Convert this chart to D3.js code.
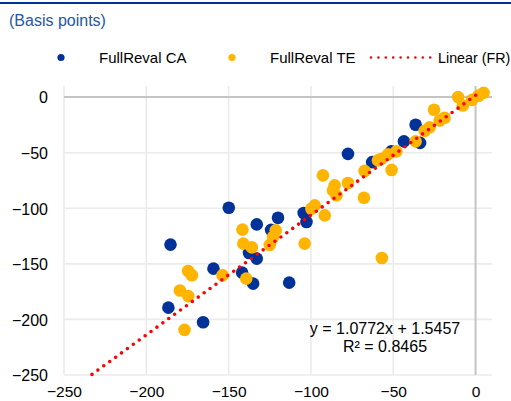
<!DOCTYPE html>
<html>
<head>
<meta charset="utf-8">
<script src="https://cdn.jsdelivr.net/npm/d3@7"></script>
<style>
  html, body { margin: 0; padding: 0; background: #fff; }
  svg { display: block; font-family: "Liberation Sans", Arial, sans-serif; }
</style>
</head>
<body>
<svg id="chart" width="511" height="401"></svg>
<script>
// ---- data ----
const caX = [-185.3, -186.6, -165.5, -149.9, -159.2, -141.8, -135.1, -137.6, -132.9, -132.9, -120.0, -124.2, -104.4, -102.7, -113.2, -77.5, -62.8, -51.2, -43.5, -36.4, -33.7];
const caY = [-132.7, -189.4, -202.6, -99.5, -154.3, -157.9, -167.8, -140.3, -145.3, -114.5, -108.6, -119.4, -104.3, -112.4, -166.9, -51.1, -58.5, -48.8, -39.8, -24.8, -41.2];
const teX = [-176.8, -179.6, -174.5, -174.6, -172.3, -153.7, -139.3, -141.6, -141.1, -135.9, -125.0, -121.4, -123.0, -103.8, -99.7, -97.7, -91.6, -92.7, -85.6, -86.6, -77.5, -84.5, -67.4, -67.8, -59.3, -57.2, -53.2, -48.1, -51.0, -36.4, -30.9, -27.9, -21.8, -18.8, -25.2, -10.6, -7.7, -2.1, 1.8, 4.9, -56.9];
const teY = [-209.4, -174.0, -179.0, -156.5, -160.3, -160.3, -163.3, -119.2, -131.8, -135.2, -132.9, -119.9, -125.9, -131.8, -100.4, -97.4, -106.4, -70.4, -79.4, -83.9, -77.2, -88.4, -66.4, -90.5, -56.9, -55.4, -51.5, -48.8, -65.5, -39.8, -30.4, -27.2, -21.0, -18.5, -11.3, 0.0, -7.5, -2.5, 1.3, 3.8, -144.8];
const trendSlope = 1.0772;
const trendIntercept = 1.5457;
const trendRange = [-233, 1];
const xTicks = [-250, -200, -150, -100, -50, 0];
const yTicks = [-250, -200, -150, -100, -50, 0];
const seriesNames = ["FullReval CA", "FullReval TE", "Linear (FR)"];
const titleText = "(Basis points)";
const eqLines = ["y = 1.0772x + 1.5457", "R\u00B2 = 0.8465"];

// ---- drawing ----
const BLUE = "#003299", ORANGE = "#ffb400", RED = "#ff0000";
const svg = d3.select("#chart");
const x = d3.scaleLinear().domain([-250, 10]).range([64, 492]);
const y = d3.scaleLinear().domain([-250, 10]).range([375, 86]);

// top rule
svg.append("rect").attr("x", 0).attr("y", 2).attr("width", 511).attr("height", 2).attr("fill", BLUE);

// title
svg.append("text").attr("x", 9).attr("y", 26).attr("fill", "#2457a5")
  .attr("font-size", 16).text(titleText);

// gridlines
const g = svg.append("g");
g.selectAll("line.vg").data(xTicks.filter(d => d !== 0)).join("line")
  .attr("x1", d => x(d)).attr("x2", d => x(d)).attr("y1", y(10)).attr("y2", y(-250))
  .attr("stroke", "#ebebeb").attr("stroke-width", 1.6);
g.selectAll("line.hg").data(yTicks.filter(d => d !== 0)).join("line")
  .attr("x1", x(-250)).attr("x2", x(10)).attr("y1", d => y(d)).attr("y2", d => y(d))
  .attr("stroke", "#ebebeb").attr("stroke-width", 1.6);
// zero axes
g.append("line").attr("x1", x(-250)).attr("x2", x(10)).attr("y1", y(0)).attr("y2", y(0))
  .attr("stroke", "#c4c4c4").attr("stroke-width", 2);
g.append("line").attr("x1", x(0)).attr("x2", x(0)).attr("y1", y(10)).attr("y2", y(-250))
  .attr("stroke", "#c4c4c4").attr("stroke-width", 2);

// axis tick labels via d3 axes (domain & ticks hidden)
const xAxis = d3.axisBottom(x).tickValues(xTicks).tickSize(0).tickPadding(0);
const xa = svg.append("g").attr("transform", `translate(0,${y(-250)})`).call(xAxis);
xa.select(".domain").remove();
xa.selectAll("text").attr("font-size", 15.5).attr("fill", "#000")
  .attr("font-family", '"Liberation Sans", Arial, sans-serif')
  .attr("dy", null).attr("y", 21.5);

const yAxis = d3.axisLeft(y).tickValues(yTicks).tickSize(0).tickPadding(0);
const ya = svg.append("g").attr("transform", `translate(48,0)`).call(yAxis);
ya.select(".domain").remove();
ya.selectAll("text").attr("font-size", 16).attr("fill", "#000")
  .attr("font-family", '"Liberation Sans", Arial, sans-serif')
  .attr("x", 0).attr("dy", "0.36em");

// points
const caData = caX.map((v, i) => [v, caY[i]]);
const teData = teX.map((v, i) => [v, teY[i]]);
svg.append("g").selectAll("circle").data(caData).join("circle")
  .attr("cx", d => x(d[0])).attr("cy", d => y(d[1])).attr("r", 6.3).attr("fill", BLUE);
svg.append("g").selectAll("circle").data(teData).join("circle")
  .attr("cx", d => x(d[0])).attr("cy", d => y(d[1])).attr("r", 6.3).attr("fill", ORANGE);

// trendline
const line = d3.line().x(d => x(d)).y(d => y(trendSlope * d + trendIntercept));
svg.append("path").datum(trendRange).attr("d", line)
  .attr("fill", "none").attr("stroke", RED).attr("stroke-width", 3.6)
  .attr("stroke-linecap", "round").attr("stroke-dasharray", "0 7.3");

// equation
const eq = svg.append("g").attr("font-size", 16).attr("fill", "#000").attr("text-anchor", "middle");
eq.append("text").attr("x", 385).attr("y", 334).text(eqLines[0]);
eq.append("text").attr("x", 385).attr("y", 352).text(eqLines[1]);

// legend
const lg = svg.append("g").attr("font-size", 15).attr("fill", "#000");
lg.append("circle").attr("cx", 61).attr("cy", 57.5).attr("r", 3.6).attr("fill", BLUE);
lg.append("text").attr("x", 99).attr("y", 62.5).text(seriesNames[0]);
lg.append("circle").attr("cx", 232).attr("cy", 57.5).attr("r", 3.6).attr("fill", ORANGE);
lg.append("text").attr("x", 270).attr("y", 62.5).text(seriesNames[1]);
lg.append("line").attr("x1", 371).attr("x2", 431).attr("y1", 57.5).attr("y2", 57.5)
  .attr("stroke", RED).attr("stroke-width", 2.6).attr("stroke-linecap", "round")
  .attr("stroke-dasharray", "0 7.4");
lg.append("text").attr("x", 438).attr("y", 62.5).attr("font-size", 14.3).text(seriesNames[2]);
</script>
</body>
</html>
